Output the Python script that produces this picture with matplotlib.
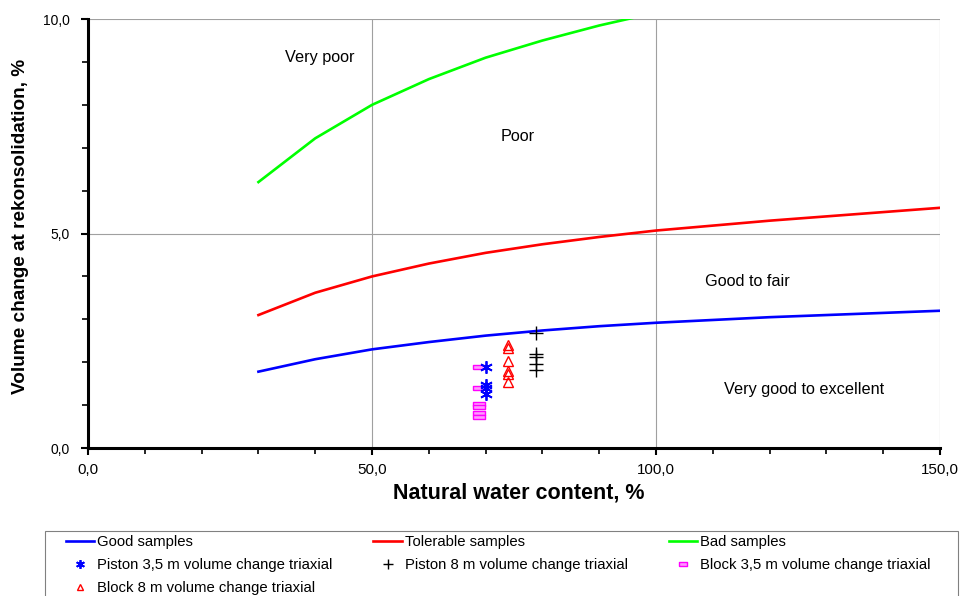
import numpy as np
import matplotlib
matplotlib.use("Agg")
import matplotlib.pyplot as plt
from matplotlib.patches import Rectangle
from matplotlib.ticker import MultipleLocator, FuncFormatter

plt.rcParams['font.family'] = ['Liberation Sans', 'DejaVu Sans']

# limit curves
curve_x = [30, 40, 50, 60, 70, 80, 90, 100, 120, 140, 150]
good_y = [1.78, 2.07, 2.30, 2.47, 2.62, 2.74, 2.84, 2.92, 3.05, 3.15, 3.20]
tolerable_y = [3.10, 3.62, 4.00, 4.30, 4.55, 4.75, 4.92, 5.07, 5.30, 5.50, 5.60]
bad_y = [6.20, 7.22, 8.00, 8.60, 9.10, 9.50, 9.85, 10.15, 10.70, 11.15, 11.35]

# test results
piston35_x = [70.0, 70.0, 70.0, 70.0]
piston35_y = [1.90, 1.48, 1.40, 1.27]
piston8_x = [78.8, 78.8, 78.8, 78.8, 78.8]
piston8_y = [2.68, 2.20, 2.12, 1.97, 1.82]
block35_x = [68.9, 68.9, 68.9, 68.9, 68.9, 68.9]
block35_y = [1.90, 1.41, 1.02, 0.96, 0.81, 0.73]
block8_x = [73.9, 73.9, 73.9, 73.9, 73.9, 73.9]
block8_y = [2.40, 2.32, 2.04, 1.80, 1.72, 1.55]

# zone labels
zones = ["Very poor", "Poor", "Good to fair", "Very good to excellent"]
zone_x = [40.8, 75.7, 116.0, 126.0]
zone_y = [9.11, 7.27, 3.89, 1.37]

fig = plt.figure(figsize=(9.61, 5.96), dpi=100)
ax = fig.add_axes([0.0916, 0.2483, 0.8866, 0.7197])

l_good, = ax.plot(curve_x, good_y, color='#0000ff', lw=1.9, label='Good samples')
l_tol, = ax.plot(curve_x, tolerable_y, color='#ff0000', lw=1.9, label='Tolerable samples')
l_bad, = ax.plot(curve_x, bad_y, color='#00ff00', lw=1.9, label='Bad samples')

rect = [(-1, -0.35), (1, -0.35), (1, 0.35), (-1, 0.35), (-1, -0.35)]
m_b35, = ax.plot(block35_x, block35_y, ls='none', marker=rect, ms=9, mfc='#ff99ff',
                 mec='#ff00ff', mew=1.0, label='Block 3,5 m volume change triaxial')
m_p35, = ax.plot(piston35_x, piston35_y, ls='none', marker=(6, 2, 0), ms=9, mec='#0000ff',
                 mew=1.3, label='Piston 3,5 m volume change triaxial')
m_b8, = ax.plot(block8_x, block8_y, ls='none', marker='^', ms=7, mfc='none', mec='#ff0000',
                mew=1.0, label='Block 8 m volume change triaxial')
m_p8, = ax.plot(piston8_x, piston8_y, ls='none', marker='+', ms=10, mec='black',
                mew=1.0, label='Piston 8 m volume change triaxial')

for txt, x, y in zip(zones, zone_x, zone_y):
    ax.text(x, y, txt, ha='center', va='center', fontsize=11.7)

ax.set_xlim(0, 150)
ax.set_ylim(0, 10)
ax.xaxis.set_major_locator(MultipleLocator(50))
ax.xaxis.set_minor_locator(MultipleLocator(10))
ax.yaxis.set_major_locator(MultipleLocator(5))
ax.yaxis.set_minor_locator(MultipleLocator(1))
fmt = FuncFormatter(lambda v, p: f"{v:.1f}".replace('.', ','))
ax.xaxis.set_major_formatter(fmt)
ax.yaxis.set_major_formatter(fmt)
ax.grid(True, which='major', color='#a0a0a0', lw=0.8)
ax.set_axisbelow(True)
for s in ['top', 'right']:
    ax.spines[s].set_visible(False)
for s in ['left', 'bottom']:
    ax.spines[s].set_linewidth(2.2)
ax.tick_params(which='major', direction='out', length=5, width=1.5)
ax.tick_params(which='minor', direction='out', length=4, width=1.2)
ax.tick_params(axis='x', which='major', labelsize=10.9, pad=6)
ax.tick_params(axis='y', which='major', labelsize=10, pad=8)

ax.set_xlabel('Natural water content, %', fontsize=15.5, fontweight='bold', labelpad=4)
ax.set_ylabel('Volume change at rekonsolidation, %', fontsize=13.7, fontweight='bold', labelpad=10)
ax.xaxis.label.set_position((0.505, 0))
ax.yaxis.label.set_position((0, 0.517))

# legend frame (runs off the bottom edge as in the source)
fig.patches.append(Rectangle((45 / 961, -0.05), (958 - 45) / 961, (596 - 531) / 596 + 0.05,
                             transform=fig.transFigure, fill=False, edgecolor='#808080', lw=0.8))

handles = [l_good, m_p35, m_b8, l_tol, m_p8, l_bad, m_b35]
leg = fig.legend(handles=handles, labels=[h.get_label() for h in handles], ncol=3,
                 loc='upper left', bbox_to_anchor=(66 / 961, 1 - 535 / 596),
                 fontsize=10.7, frameon=False, markerscale=0.7,
                 handlelength=1.9, handletextpad=0.2, columnspacing=2.75,
                 borderpad=0, labelspacing=0.62, borderaxespad=0)

fig.savefig('out.png', dpi=100)
